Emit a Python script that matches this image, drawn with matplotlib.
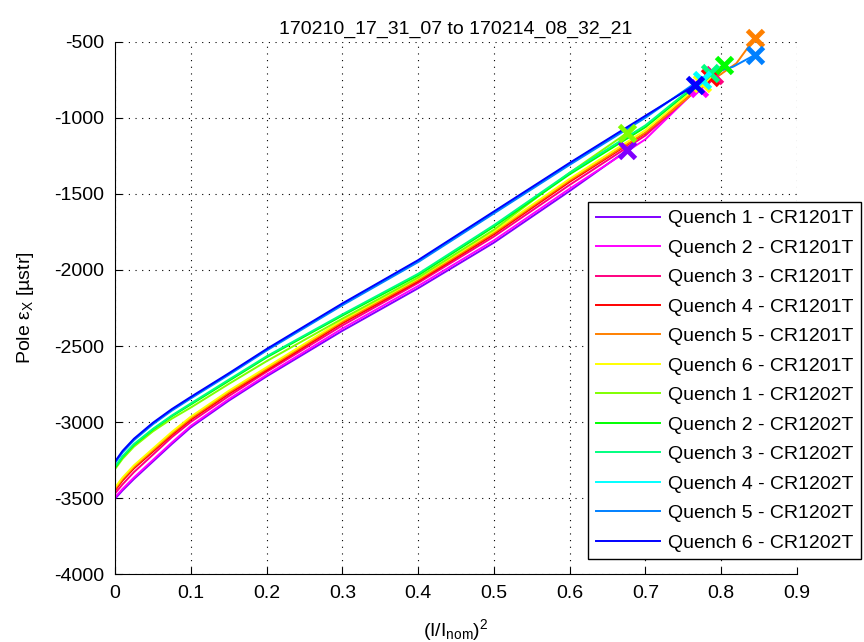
import matplotlib
matplotlib.use('Agg')
import matplotlib.pyplot as plt

plt.rcParams['font.family'] = ['Liberation Sans', 'DejaVu Sans']
plt.rcParams['axes.unicode_minus'] = False
plt.rcParams['mathtext.default'] = 'regular'

# common x points of the bulk of every ramp
xb = [0, 0.01, 0.025, 0.05, 0.075, 0.1, 0.15, 0.2, 0.3, 0.4, 0.5, 0.6]

labels = ['Quench 1 - CR1201T', 'Quench 2 - CR1201T', 'Quench 3 - CR1201T',
          'Quench 4 - CR1201T', 'Quench 5 - CR1201T', 'Quench 6 - CR1201T',
          'Quench 1 - CR1202T', 'Quench 2 - CR1202T', 'Quench 3 - CR1202T',
          'Quench 4 - CR1202T', 'Quench 5 - CR1202T', 'Quench 6 - CR1202T']

colors = ['#8000ff', '#ff00ff', '#ff0080', '#ff0000', '#ff8000', '#ffff00',
          '#80ff00', '#00ff00', '#00ff80', '#00ffff', '#0080ff', '#0000ff']

# tails (x beyond 0.6) of every ramp
x1_01 = [0.676]
y1_01 = [-3505, -3450, -3375, -3260, -3145, -3035, -2860, -2700, -2400, -2120, -1820, -1480, -1211]
x2_01 = [0.7, 0.77]
y2_01 = [-3495, -3440, -3365, -3250, -3135, -3025, -2850, -2690, -2385, -2105, -1805, -1465, -1140, -800]
x3_01 = [0.7, 0.79]
y3_01 = [-3470, -3410, -3330, -3215, -3100, -3000, -2830, -2670, -2365, -2085, -1780, -1440, -1115, -715]
x4_01 = [0.7, 0.785]
y4_01 = [-3450, -3385, -3305, -3195, -3085, -2985, -2815, -2660, -2350, -2075, -1765, -1420, -1100, -730]
x5_01 = [0.7, 0.76, 0.82, 0.844]
y5_01 = [-3440, -3375, -3295, -3185, -3075, -2975, -2805, -2650, -2340, -2065, -1755, -1410, -1095, -850, -640, -476]
x6_01 = [0.7, 0.775]
y6_01 = [-3430, -3365, -3285, -3175, -3065, -2965, -2795, -2640, -2330, -2055, -1745, -1400, -1080, -770]
x1_02 = [0.675]
y1_02 = [-3310, -3242, -3162, -3062, -2978, -2905, -2750, -2600, -2320, -2050, -1735, -1360, -1101]
x2_02 = [0.7, 0.76, 0.803]
y2_02 = [-3300, -3230, -3150, -3050, -2962, -2885, -2730, -2575, -2300, -2035, -1715, -1370, -1060, -815, -651]
x3_02 = [0.7, 0.785]
y3_02 = [-3295, -3225, -3145, -3045, -2957, -2878, -2722, -2568, -2292, -2025, -1705, -1360, -1048, -706]
x4_02 = [0.7, 0.774]
y4_02 = [-3265, -3195, -3115, -3010, -2920, -2840, -2685, -2525, -2225, -1940, -1620, -1300, -990, -750]
x5_02 = [0.7, 0.78, 0.816, 0.844]
y5_02 = [-3270, -3200, -3120, -3015, -2925, -2845, -2690, -2530, -2232, -1948, -1628, -1308, -998, -720, -662, -586]
x6_02 = [0.7, 0.765]
y6_02 = [-3260, -3190, -3110, -3005, -2915, -2835, -2680, -2520, -2220, -1935, -1615, -1295, -985, -785]

tails = [x1_01, x2_01, x3_01, x4_01, x5_01, x6_01, x1_02, x2_02, x3_02, x4_02, x5_02, x6_02]
ys = [y1_01, y2_01, y3_01, y4_01, y5_01, y6_01, y1_02, y2_02, y3_02, y4_02, y5_02, y6_02]

xticks = [0, 0.1, 0.2, 0.3, 0.4, 0.5, 0.6, 0.7, 0.8, 0.9]
xticklabels = ['0', '0.1', '0.2', '0.3', '0.4', '0.5', '0.6', '0.7', '0.8', '0.9']
yticks = [-4000, -3500, -3000, -2500, -2000, -1500, -1000, -500]

fig = plt.figure(figsize=(8.64, 6.42), dpi=100)
ax = fig.add_axes([0.1331, 0.1059, 0.7894, 0.8287])

for k in range(len(ys)):
  ax.plot(xb + tails[k], ys[k], color=colors[k], lw=1.4, label=labels[k])
for k in range(len(ys)):
  xs = xb + tails[k]
  ax.plot(xs[-1], ys[k][-1], 'x', color=colors[k], ms=11, mew=3.5, clip_on=False)

ax.set_xlim(0, 0.9)
ax.set_ylim(-4000, -500)
ax.set_xticks(xticks)
ax.set_xticklabels(xticklabels)
ax.set_yticks(yticks)
ax.grid(True, color='black', linestyle=(0, (1, 5)), lw=0.8)
ax.spines['top'].set_visible(False)
ax.spines['right'].set_visible(False)
ax.tick_params(direction='in', length=5, labelsize=14, pad=8)

ax.set_title('170210_17_31_07 to 170214_08_32_21', fontsize=14, pad=6)
ax.set_xlabel('(I/I$_{nom}$)$^2$', fontsize=14, labelpad=11)
ax.set_ylabel('Pole $ε_X$ [µstr]', fontsize=14, labelpad=13)

leg = ax.legend(loc='upper left', bbox_to_anchor=(0.6806, 0.6854), bbox_transform=fig.transFigure,
                fontsize=14, fancybox=False, framealpha=1, edgecolor='black',
                handlelength=3.3, handletextpad=0.4, labelspacing=0.61, borderaxespad=0)
leg.get_frame().set_linewidth(1)
leg.set_zorder(5)

fig.savefig('out.png', dpi=100)
